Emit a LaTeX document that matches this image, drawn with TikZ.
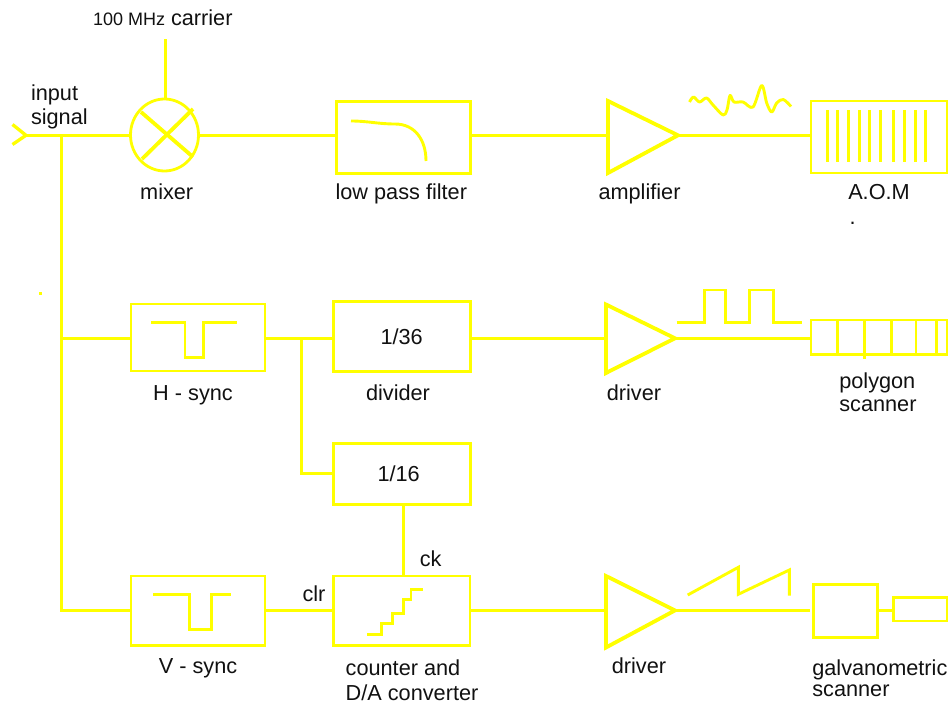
\documentclass[tikz,border=0pt]{standalone}
\usepackage{fontspec}
\setmainfont{Liberation Sans}
\usetikzlibrary{shapes.geometric,calc}
\definecolor{ylw}{RGB}{255,255,0}
\definecolor{ink}{RGB}{17,17,17}
\newcommand{\mkbox}[6][]{%
  \pgfmathsetlengthmacro{\bw}{(#5)-(#3)}%
  \pgfmathsetlengthmacro{\bh}{(#6)-(#4)}%
  \node[blockbox,#1,minimum width=\bw,minimum height=\bh] (#2) at ({((#3)+(#5))/2},{((#4)+(#6))/2}) {};%
}
\tikzset{
  sig/.style={draw=ylw,line width=2.9pt,line join=miter},
  sigwide/.style={draw=ylw,line width=3.3pt},
  sigthick/.style={draw=ylw,line width=3.8pt},
  blockbox/.style={draw=ylw,line width=2.8pt,inner sep=0pt,outer sep=0pt,fill=none},
  heavybox/.style={line width=3pt},
  txt/.style={anchor=base,text=ink,inner sep=0pt,outer sep=0pt,font=\fontsize{21.7}{24}\selectfont},
  ltxt/.style={txt,anchor=base west},
}
\begin{document}
\begin{tikzpicture}[x=1pt,y=-1pt]
\useasboundingbox (0,0) rectangle (951,704);
\fill[white] (0,0) rectangle (951,704);
% rows
\coordinate (r1) at (0,135.3);
\coordinate (r2) at (0,338.3);
\coordinate (r3) at (0,610.4);
% row 1 elements
\coordinate (inA) at (12.5,124.5);
\coordinate (inTip) at (26,135.3);
\coordinate (inB) at (12.5,144.5);
\coordinate (carrierEnd) at (165.5,39);
\coordinate (busTop) at (61.5,135.3);
\node[ellipse,draw=ylw,line width=2.8pt,minimum width=68pt,minimum height=72pt,inner sep=0pt,outer sep=0pt] (mixer) at (164.5,135) {};
\mkbox[heavybox]{lpf}{336}{101}{470}{173}
\coordinate (ampA) at (608,101);
\coordinate (ampB) at (608,173);
\coordinate (ampTip) at (678,135.3);
\mkbox{aom}{811}{101}{947}{173}
% row 2 elements
\mkbox{hsync}{131}{304}{265}{371}
\mkbox[heavybox]{divider}{333}{301.5}{470}{371}
\coordinate (drvAa) at (606,304.5);
\coordinate (drvAb) at (606,373);
\coordinate (drvAtip) at (675,338.3);
\mkbox{polygon}{811}{320}{947}{354.7}
% middle
\mkbox[heavybox]{sixteen}{333}{443}{470}{504}
% row 3 elements
\mkbox{vsync}{131}{576}{265}{645.7}
\mkbox{counter}{333.5}{576}{470}{645.7}
\coordinate (drvBa) at (606,576);
\coordinate (drvBb) at (606,647.5);
\coordinate (drvBtip) at (675,610.4);
\mkbox[heavybox]{galvo}{813.5}{584}{877.5}{637.5}
\mkbox{mirror}{893.5}{597.5}{947}{621}
% connectors
\draw[sigwide] (inA) -- (inTip) -- (inB);
\draw[sigwide] (inTip) -- (mixer.west |- r1);
\draw[sig] (carrierEnd) -- (carrierEnd |- mixer.north);
\draw[sigwide] (mixer.east |- r1) -- (lpf.west |- r1);
\draw[sigwide] (lpf.east |- r1) -- (ampA |- r1);
\draw[sigwide] (ampTip) -- (aom.west |- r1);
\draw[sig] (busTop) -- (busTop |- r3) -- (vsync.west |- r3);
\draw[sig] (busTop |- r2) -- (hsync.west |- r2);
\draw[sig] (hsync.east |- r2) -- (divider.west |- r2);
\draw[sig] (301.7,338.3) coordinate (branch) -- (branch |- sixteen.west) -- (sixteen.west);
\draw[sig] (divider.east |- r2) -- (drvAa |- r2);
\draw[sig] (drvAtip) -- (polygon.west |- r2);
\draw[sig] (vsync.east |- r3) -- (counter.west |- r3);
\draw[sig] (403.3,504) coordinate (ckTop) -- (ckTop |- counter.north);
\draw[sig] (counter.east |- r3) -- (drvBa |- r3);
\draw[sig] (drvBtip) -- (810,610.4);
\draw[sig] (galvo.east |- r3) -- (mirror.west |- r3);
% mixer cross
\draw[sigthick] (141,112) -- (193,157);
\draw[sigthick] (142,159) -- (193,109);
% filter curve
\draw[sig] (351,121) .. controls (368,121) and (378,124) .. (395,124) .. controls (415,124) and (426,140) .. (426,161);
% triangles
\draw[sigthick,line join=miter] (ampA) -- (ampTip) -- (ampB) -- cycle;
\draw[sigthick,line join=miter] (drvAa) -- (drvAtip) -- (drvAb) -- cycle;
\draw[sigthick,line join=miter] (drvBa) -- (drvBtip) -- (drvBb) -- cycle;
% squiggle
\draw[sig,line join=round] plot[smooth,tension=0.55] coordinates {(689.5,102)(693.5,97)(699.5,102)(706.5,98)(713,105)(723,115)(727,110)(730,95.5)(734,102)(743,102)(753,107)(761.7,85.5)(766.7,103)(771.7,112)(776.7,103)(783.3,99.5)(791,106.5)};
% AOM bars
\foreach \xb in {827.3,837.3,848.3,859.3,869.3,880.3,893.3,904.3,915.3,925.3}
  \draw[sig] (\xb,110) -- (\xb,161.5);
% polygon ticks
\foreach \xb in {837.3,891.3,916,936.7}
  \draw[sig] (\xb,320) -- (\xb,354.7);
\draw[sig] (864.3,320) -- (864.3,359);
% pulses
\draw[sig] (676.7,322.3) -- (704.3,322.3) -- (704.3,290) -- (725.7,290) -- (725.7,322.3) -- (749.3,322.3) -- (749.3,290) -- (773.3,290) -- (773.3,322.3) -- (801.7,322.3);
\draw[sig] (151,322.3) -- (185,322.3) -- (185,357.7) -- (203.3,357.7) -- (203.3,322.3) -- (237,322.3);
\draw[sig] (153.3,594.3) -- (189.3,594.3) -- (189.3,629.3) -- (211.7,629.3) -- (211.7,594.3) -- (231,594.3);
\draw[sig] (367.3,634.7) -- (381.7,634.7) -- (381.7,623.3) -- (392.3,623.3) -- (392.3,613.3) -- (403.3,613.3) -- (403.3,599.3) -- (411,599.3) -- (411,589.3) -- (422.7,589.3);
\draw[sig] (687.7,595) -- (738.3,567.3) -- (738.3,594.3) -- (789.3,570) -- (789.3,595.7);
% stray dot
\fill[ylw] (39,292) rectangle (41.6,294.6);
% labels
\node[ltxt] (tInput) at (31,100) {input};
\node[ltxt] (tSignal) at (31,124) {signal};
\node[ltxt] (tCarrier) at (93,25) {{\fontsize{18}{20}\selectfont 100 MHz} carrier};
\node[txt] (tMixer) at (166.7,199) {mixer};
\node[txt] (tLpf) at (401.3,199) {low pass filter};
\node[txt] (tAmp) at (639.5,199) {amplifier};
\node[txt] (tAom) at (879,199) {A.O.M};
\node[ltxt] (tDot) at (849.5,224.5) {.};
\node[txt] (tHs) at (193,400.7) {H - sync};
\node[txt] (tDiv) at (398,400.7) {divider};
\node[txt] (t36) at (401.7,344.5) {1/36};
\node[txt] (t16) at (398.7,481.5) {1/16};
\node[txt] (tDrvA) at (634,400.7) {driver};
\node[ltxt] (tPoly) at (839.3,388.3) {polygon};
\node[ltxt] (tScanA) at (839.3,411.7) {scanner};
\node[txt] (tClr) at (314,601) {clr};
\node[txt] (tCk) at (430.7,566.7) {ck};
\node[txt] (tVs) at (198,673.3) {V - sync};
\node[ltxt] (tCnt) at (345.7,675.5) {counter and};
\node[ltxt] (tDa) at (345.7,700.5) {D/A converter};
\node[txt] (tDrvB) at (639,673.3) {driver};
\node[ltxt] (tGalv) at (812.3,675) {galvanometric};
\node[ltxt] (tScanB) at (812.3,696.7) {scanner};
\end{tikzpicture}
\end{document}
